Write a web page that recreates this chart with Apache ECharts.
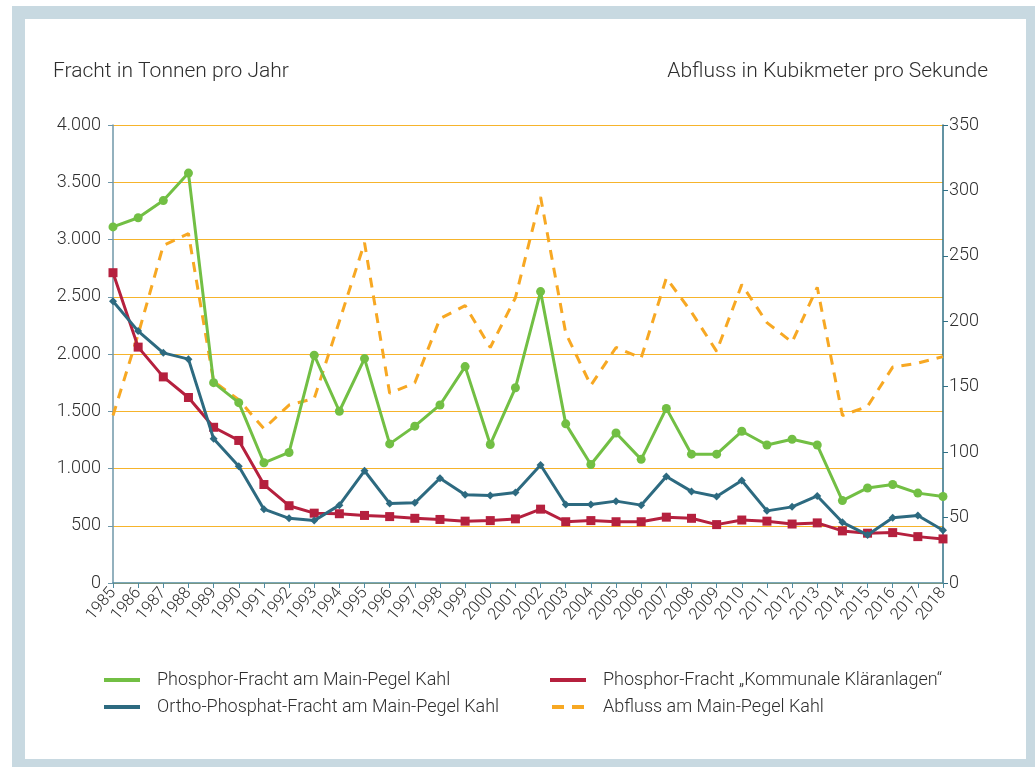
<!DOCTYPE html>
<html><head><meta charset="utf-8">
<script src="https://cdn.jsdelivr.net/npm/echarts@6/dist/echarts.min.js"></script>
<style>
html,body{margin:0;padding:0;background:#fff;}
#frame{position:absolute;left:12px;top:6px;width:1023px;height:761px;background:#c8d9e1;}
#inner{position:absolute;left:25px;top:19px;width:1001px;height:740px;background:#fff;}
#chart{position:absolute;left:0;top:0;width:1035px;height:767px;}
</style></head>
<body>
<div id="frame"></div><div id="inner"></div>
<div id="chart"></div>
<script>
const years = ['1985','1986','1987','1988','1989','1990','1991','1992','1993','1994','1995','1996','1997','1998','1999','2000','2001','2002','2003','2004','2005','2006','2007','2008','2009','2010','2011','2012','2013','2014','2015','2016','2017','2018'];
const phosphorKahl = [3110,3190,3340,3580,1750,1575,1050,1140,1990,1500,1960,1215,1370,1555,1890,1210,1705,2545,1390,1035,1310,1080,1525,1125,1125,1325,1205,1255,1205,720,830,860,785,755];
const orthoKahl = [2460,2200,2010,1955,1260,1020,645,565,545,680,980,695,700,915,770,765,790,1030,685,685,715,680,930,800,755,895,630,665,760,530,420,570,590,460];
const klaeranlagen = [2710,2060,1800,1620,1360,1245,860,675,610,605,590,580,565,555,540,545,560,645,535,545,535,535,575,565,510,550,540,515,525,455,435,440,405,385];
const abfluss = [128,190,258,267,154,140,118,136,141,200,260,145,153,202,212,180,218,295,191,151,180,172,233,207,177,228,199,184,226,128,135,165,168,173];
const leftTicks = [0,500,1000,1500,2000,2500,3000,3500,4000];
const rightTicks = [0,50,100,150,200,250,300,350];

const names = ['Phosphor-Fracht am Main-Pegel Kahl','Ortho-Phosphat-Fracht am Main-Pegel Kahl','Phosphor-Fracht \u201eKommunale Kl\u00e4ranlagen\u201c','Abfluss am Main-Pegel Kahl'];
const FONT = 'Roboto';
const txt = '#2e2e2e';
function de(v){ return String(v).replace(/\B(?=(\d{3})+(?!\d))/g,'.'); }

const chart = echarts.init(document.getElementById('chart'), null, {renderer:'canvas'});
const solidIcon = 'path://M0,0H36V4H0Z';
const dashIcon = 'path://M0,0H12V4H0Z M20,0H32V4H20Z';
chart.setOption({
  backgroundColor:'transparent',
  animation:false,
  textStyle:{fontFamily:FONT},
  grid:{left:113,right:92,top:125,bottom:184,containLabel:false},
  graphic:[
    {type:'text',left:53,top:61,style:{text:'Fracht in Tonnen pro Jahr',font:'300 21px '+FONT,fill:txt}},
    {type:'text',right:47,top:61,style:{text:'Abfluss in Kubikmeter pro Sekunde',font:'300 21px '+FONT,fill:txt}}
  ],
  legend:[
    {left:99,top:666,orient:'vertical',itemWidth:36,itemHeight:4,itemGap:9,
     textStyle:{fontFamily:FONT,fontSize:18,fontWeight:300,color:txt,padding:[0,0,0,12]},
     data:[{name:names[0],icon:solidIcon},{name:names[1],icon:solidIcon}]},
    {left:545,top:666,orient:'vertical',itemWidth:36,itemHeight:4,itemGap:9,
     textStyle:{fontFamily:FONT,fontSize:18,fontWeight:300,color:txt,padding:[0,0,0,12]},
     data:[{name:names[2],icon:solidIcon},{name:names[3],icon:dashIcon}]}
  ],
  xAxis:{type:'category',data:years,boundaryGap:false,
    axisLine:{lineStyle:{color:'#4f8aa0',width:1.5}},
    axisTick:{show:true,length:5,lineStyle:{color:'#4f8aa0'},alignWithLabel:true},
    axisLabel:{rotate:50,interval:0,fontFamily:FONT,fontSize:16.5,fontWeight:300,color:txt,margin:7}},
  yAxis:[
    {type:'value',min:0,max:4000,interval:500,position:'left',
     axisLine:{show:true,lineStyle:{color:'#6f97a9',width:1.5}},
     axisTick:{show:true,length:5,lineStyle:{color:'#6f97a9'}},
     axisLabel:{formatter:v=>de(v),fontFamily:FONT,fontSize:18,fontWeight:300,color:txt,margin:12},
     splitLine:{show:true,lineStyle:{color:'#f6b42c',width:1}}},
    {type:'value',min:0,max:350,interval:50,position:'right',
     axisLine:{show:true,lineStyle:{color:'#2f6f85',width:1.5}},
     axisTick:{show:true,length:5,lineStyle:{color:'#2f6f85'}},
     axisLabel:{fontFamily:FONT,fontSize:18,fontWeight:300,color:txt,margin:6},
     splitLine:{show:false}}
  ],
  series:[
    {name:names[3],type:'line',yAxisIndex:1,data:abfluss,symbol:'none',z:1,
     lineStyle:{color:'#f7a823',width:3,type:[10,8]},itemStyle:{color:'#f7a823'}},
    {name:names[0],type:'line',data:phosphorKahl,symbol:'circle',symbolSize:9,z:4,
     lineStyle:{color:'#72bf44',width:3},itemStyle:{color:'#72bf44'}},
    {name:names[1],type:'line',data:orthoKahl,symbol:'diamond',symbolSize:8,z:3,
     lineStyle:{color:'#2d6a80',width:3},itemStyle:{color:'#2d6a80'}},
    {name:names[2],type:'line',data:klaeranlagen,symbol:'rect',symbolSize:9,z:2,
     lineStyle:{color:'#b5203e',width:3},itemStyle:{color:'#b5203e'}}
  ]
});
</script>
</body></html>
